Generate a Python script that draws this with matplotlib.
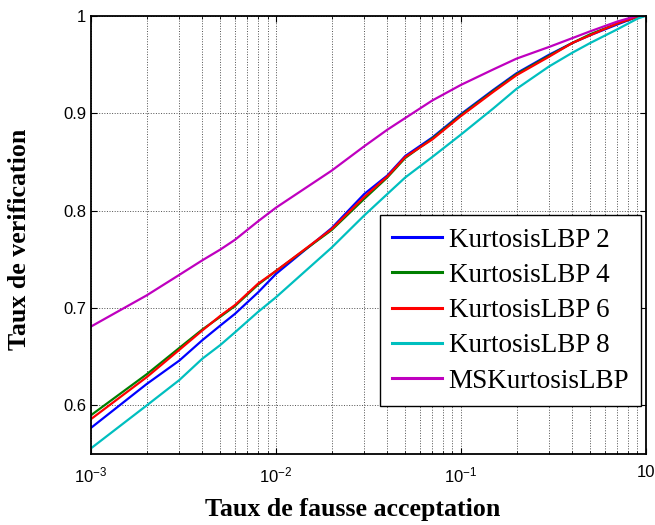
import matplotlib
matplotlib.use("Agg")
import matplotlib.pyplot as plt
from matplotlib.ticker import LogLocator, FixedLocator, FixedFormatter, NullFormatter

plt.rcParams["font.family"] = ["Liberation Sans", "DejaVu Sans"]
plt.rcParams["mathtext.fontset"] = "custom"
plt.rcParams["mathtext.rm"] = "Liberation Sans"
plt.rcParams["mathtext.it"] = "Liberation Sans"

# false acceptance rate sample points (shared by all curves)
far = [0.001, 0.002, 0.003, 0.004, 0.005, 0.006, 0.008, 0.01, 0.02, 0.03, 0.04,
       0.05, 0.07, 0.1, 0.15, 0.2, 0.3, 0.4, 0.5, 0.7, 0.9, 1.0]

kurt2 = [0.577, 0.622, 0.646, 0.667, 0.682, 0.694, 0.716, 0.735, 0.782, 0.817, 0.836,
         0.856, 0.875, 0.899, 0.924, 0.941, 0.960, 0.972, 0.980, 0.991, 0.999, 1.0]
kurt4 = [0.590, 0.632, 0.659, 0.678, 0.691, 0.702, 0.724, 0.738, 0.780, 0.812, 0.834,
         0.854, 0.874, 0.898, 0.923, 0.940, 0.959, 0.972, 0.981, 0.992, 0.999, 1.0]
kurt6 = [0.586, 0.629, 0.657, 0.677, 0.692, 0.703, 0.725, 0.738, 0.781, 0.814, 0.835,
         0.855, 0.873, 0.897, 0.922, 0.939, 0.958, 0.972, 0.980, 0.992, 0.999, 1.0]
kurt8 = [0.556, 0.600, 0.626, 0.648, 0.662, 0.675, 0.696, 0.711, 0.762, 0.795, 0.817,
         0.834, 0.855, 0.878, 0.905, 0.925, 0.948, 0.962, 0.972, 0.986, 0.997, 1.0]
ms_kurt = [0.681, 0.713, 0.734, 0.749, 0.760, 0.770, 0.789, 0.803, 0.841, 0.866, 0.883,
           0.895, 0.913, 0.929, 0.945, 0.956, 0.968, 0.977, 0.984, 0.994, 1.0, 1.0]

series = [kurt2, kurt4, kurt6, kurt8, ms_kurt]
labels = ["KurtosisLBP 2", "KurtosisLBP 4", "KurtosisLBP 6", "KurtosisLBP 8", "MSKurtosisLBP"]
colors = ["#0000ff", "#007f00", "#ff0000", "#00bfbf", "#bf00bf"]

xticks = [1e-3, 1e-2, 1e-1, 1.0]
xticklabels = ["$10^{-3}$", "$10^{-2}$", "$10^{-1}$", "10"]
yticks = [0.6, 0.7, 0.8, 0.9, 1.0]
yticklabels = ["0.6", "0.7", "0.8", "0.9", "1"]

fig = plt.figure(figsize=(6.55, 5.25), dpi=100)
ax = fig.add_axes([0.139, 0.135, 0.847, 0.835])

for vals, lab, col in zip(series, labels, colors):
    ax.plot(far, vals, color=col, linewidth=1.6, label=lab)

ax.set_xscale("log")
ax.set_xlim(1e-3, 1.0)
ax.set_ylim(0.55, 1.0)
ax.xaxis.set_major_locator(FixedLocator(xticks))
ax.xaxis.set_major_formatter(FixedFormatter(xticklabels))
ax.xaxis.set_minor_locator(LogLocator(base=10, subs=range(2, 10)))
ax.xaxis.set_minor_formatter(NullFormatter())
ax.set_yticks(yticks)
ax.set_yticklabels(yticklabels)

ax.grid(which="major", color="#505050", linestyle=":", linewidth=0.7)
ax.grid(which="minor", axis="x", color="#505050", linestyle=":", linewidth=0.7)
ax.tick_params(which="both", direction="in", top=True, right=True, labelsize=12, colors="black")
ax.tick_params(which="major", length=4, width=0.8)
ax.tick_params(which="minor", length=2.5, width=0.6)
ax.tick_params(axis="x", pad=8)
for sp in ax.spines.values():
    sp.set_linewidth(1.3)

ax.set_xlabel("Taux de fausse acceptation", family="Liberation Serif", fontweight="bold", fontsize=18.6)
ax.set_ylabel("Taux de verification", family="Liberation Serif", fontweight="bold", fontsize=18.6)
ax.xaxis.set_label_coords(0.472, -0.1)
ax.yaxis.set_label_coords(-0.108, 0.49)

leg = ax.legend(loc="lower right", bbox_to_anchor=(0.992, 0.11), prop={"family": "Liberation Serif", "size": 19.5},
                fancybox=False, framealpha=1, edgecolor="black", handlelength=1.85, labelspacing=0.38,
                borderpad=0.45, handletextpad=0.25, borderaxespad=0)
leg.get_frame().set_linewidth(1.0)
for line in leg.get_lines():
    line.set_linewidth(2.2)

fig.savefig("out.png", dpi=100)
